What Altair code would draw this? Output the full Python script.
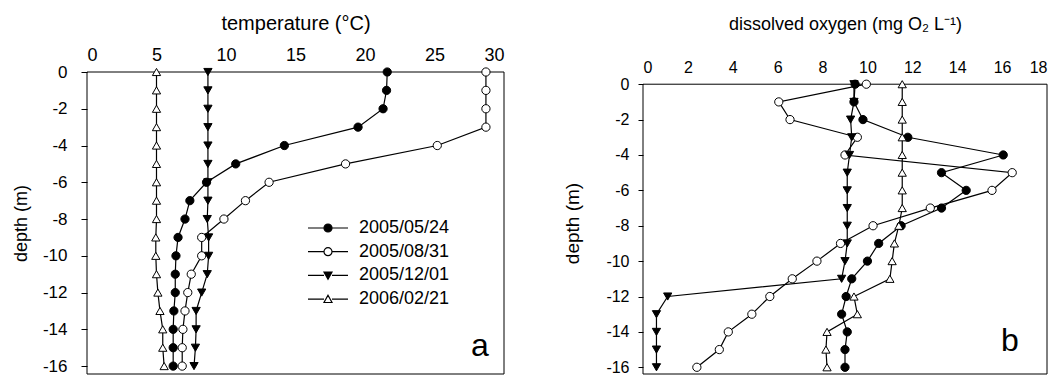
import altair as alt
import pandas as pd

FONT = "Liberation Sans"

# ---------------- data ----------------
depths = [0, -1, -2, -3, -4, -5, -6, -7, -8, -9, -10, -11, -12, -13, -14, -15, -16]
dates = ["2005/05/24", "2005/08/31", "2005/12/01", "2006/02/21"]

temp_0524 = [21.6, 21.55, 21.3, 19.5, 14.2, 10.7, 8.6, 7.4, 7.05, 6.55, 6.4, 6.35, 6.35, 6.25, 6.2, 6.2, 6.2]
temp_0831 = [28.7, 28.7, 28.7, 28.7, 25.2, 18.6, 13.1, 11.4, 9.85, 8.25, 8.25, 7.5, 7.25, 7.05, 6.9, 6.85, 6.85]
temp_1201 = [8.7, 8.7, 8.7, 8.7, 8.7, 8.7, 8.7, 8.7, 8.65, 8.75, 8.75, 8.65, 8.25, 7.85, 7.85, 7.8, 7.7]
temp_0221 = [5.0, 5.0, 5.0, 5.0, 5.0, 5.0, 5.0, 5.0, 5.0, 4.95, 4.95, 5.0, 5.1, 5.25, 5.45, 5.45, 5.55]

do_0524 = [9.45, 9.4, 9.8, 11.8, 16.05, 13.3, 14.4, 13.3, 11.5, 10.5, 10.0, 9.3, 9.05, 8.85, 9.1, 9.0, 9.0]
do_0831 = [9.95, 6.05, 6.55, 9.55, 9.0, 16.45, 15.55, 12.8, 10.25, 8.8, 7.75, 6.65, 5.65, 4.85, 3.8, 3.4, 2.4]
do_1201 = [9.4, 9.4, 9.25, 9.3, 9.2, 9.1, 9.1, 9.1, 9.1, 9.1, 9.0, 8.85, 1.1, 0.6, 0.6, 0.6, 0.6]
do_0221 = [11.55, 11.55, 11.55, 11.55, 11.55, 11.55, 11.55, 11.55, 11.4, 11.2, 11.1, 11.0, 9.4, 9.55, 8.2, 8.15, 8.2]

temp_ticks = [0, 5, 10, 15, 20, 25, 30]
do_ticks = [0, 2, 4, 6, 8, 10, 12, 14, 16, 18]
depth_ticks = [0, -2, -4, -6, -8, -10, -12, -14, -16]


def to_long(series):
    rows = []
    for date, vals in zip(dates, series):
        for d, v in zip(depths, vals):
            rows.append({"date": date, "depth": d, "value": v})
    return pd.DataFrame(rows)


temp_df = to_long([temp_0524, temp_0831, temp_1201, temp_0221])
do_df = to_long([do_0524, do_0831, do_1201, do_0221])

# ---------------- styling ----------------
shape_scale = alt.Scale(domain=dates, range=["circle", "circle", "triangle-down", "triangle-up"])
fill_scale = alt.Scale(domain=dates, range=["black", "white", "black", "white"])

CIRCLE = "M-1,0A1,1 0 1,0 1,0A1,1 0 1,0 -1,0Z"
STUBS = "M-5,0H-1M1,0H5"
TRI_DOWN = "M-1,-0.85L1,-0.85L0,0.95Z"
TRI_UP = "M0,-0.95L1,0.85L-1,0.85Z"
legend_paths = [STUBS + CIRCLE, STUBS + CIRCLE, STUBS + TRI_DOWN, STUBS + TRI_UP]

L_W, L_H = 417, 302
L_YMIN = -16.43
R_W = 404
R_YMIN, R_YMAX = -16.38, 0.69

minus_fix = "replace(datum.label, '\u2212', '-')"


def panel(df, xdom, width, ymin, ymax, xaxis, yaxis, letter, letter_xy, legend=False):
    x = alt.X("value:Q", scale=alt.Scale(domain=xdom, nice=False, zero=False), axis=xaxis)
    y = alt.Y("depth:Q", scale=alt.Scale(domain=[ymin, ymax], nice=False, zero=False), axis=yaxis)
    base = alt.Chart(df)
    lines = base.mark_line(color="black", strokeWidth=1.2).encode(
        x=x, y=y, detail="date:N", order=alt.Order("depth:Q", sort="descending")
    )
    points = base.mark_point(filled=True, stroke="black", strokeWidth=1, size=68, opacity=1).encode(
        x=x, y=y,
        shape=alt.Shape("date:N", scale=shape_scale, legend=None),
        fill=alt.Fill("date:N", scale=fill_scale, legend=None),
    )
    frame_df = pd.DataFrame({"value": [xdom[0]], "value2": [xdom[1]], "depth": [0], "depth2": [ymin]})
    frame = alt.Chart(frame_df).mark_rect(fill="transparent", stroke="black", strokeWidth=1).encode(
        x=x, x2="value2:Q", y=y, y2="depth2:Q"
    )
    lab = alt.Chart(pd.DataFrame({"t": [letter]})).mark_text(
        font=FONT, fontSize=32, align="center", baseline="alphabetic", color="black"
    ).encode(text="t:N", x=alt.value(letter_xy[0]), y=alt.value(letter_xy[1]))
    layers = [frame, lines, points, lab]
    if legend:
        leg = alt.Legend(
            orient="none", legendX=232, legendY=147, title=None, padding=0,
            labelFont=FONT, labelFontSize=18, labelColor="black", labelOffset=22,
            rowPadding=5.7, symbolSize=64, symbolStrokeColor="black", symbolStrokeWidth=1.2,
        )
        legend_layer = alt.Chart(pd.DataFrame({"date": dates})).transform_filter("false").mark_point(
            filled=True, strokeWidth=1.2, size=64, opacity=1
        ).encode(
            shape=alt.Shape("date:N", scale=alt.Scale(domain=dates, range=legend_paths), legend=leg),
            fill=alt.Fill("date:N", scale=alt.Scale(domain=dates, range=["black", "white", "black", "white"]), legend=leg),
            stroke=alt.Stroke("date:N", scale=alt.Scale(domain=dates, range=["black", "black", "black", "black"]), legend=leg),
        )
        layers.append(legend_layer)
    return alt.layer(*layers).resolve_scale(shape="independent", fill="independent", stroke="independent").properties(
        width=width, height=L_H
    )


left_xaxis = alt.Axis(
    orient="top", values=temp_ticks, title="temperature (°C)", grid=False, domain=False, ticks=False,
    labelFont=FONT, labelFontSize=18, labelColor="black", labelPadding=8,
    titleFont=FONT, titleFontSize=20, titleFontWeight="normal", titleColor="black", titlePadding=13,
)
left_yaxis = alt.Axis(
    values=depth_ticks, title="depth (m)", grid=False, domain=False, tickSize=6, tickColor="black",
    labelFont=FONT, labelFontSize=17, labelColor="black", labelPadding=14, labelExpr=minus_fix,
    titleFont=FONT, titleFontSize=18, titleFontWeight="normal", titleColor="black", titlePadding=12,
)
right_xaxis = alt.Axis(
    orient="top", values=do_ticks, title="dissolved oxygen (mg O\u2082 L\u207b\u00b9)", grid=False, domain=False,
    ticks=False, offset=-12.3,
    labelFont=FONT, labelFontSize=16, labelColor="black", labelPadding=8.5,
    titleFont=FONT, titleFontSize=18, titleFontWeight="normal", titleColor="black", titlePadding=26,
)
right_yaxis = alt.Axis(
    values=depth_ticks, title="depth (m)", grid=False, domain=False, tickSize=5, tickColor="black",
    labelFont=FONT, labelFontSize=16, labelColor="black", labelPadding=9, labelExpr=minus_fix,
    titleFont=FONT, titleFontSize=19, titleFontWeight="normal", titleColor="black", titlePadding=23,
)

left = panel(temp_df, [0, 30], L_W, L_YMIN, 0, left_xaxis, left_yaxis, "a", (393, 284), legend=True)
right = panel(do_df, [0, 18], R_W, R_YMIN, R_YMAX, right_xaxis, right_yaxis, "b", (367, 279))

chart = alt.hconcat(left, right, spacing=139, bounds="flush").resolve_scale(
    shape="independent", fill="independent", stroke="independent"
).resolve_legend(shape="independent", fill="independent", stroke="independent").configure(
    font=FONT, padding={"left": 3, "top": 4, "right": 0, "bottom": 0}
).configure_view(stroke="transparent")

chart.save("out.html", embed_options={"renderer": "svg", "actions": False})
